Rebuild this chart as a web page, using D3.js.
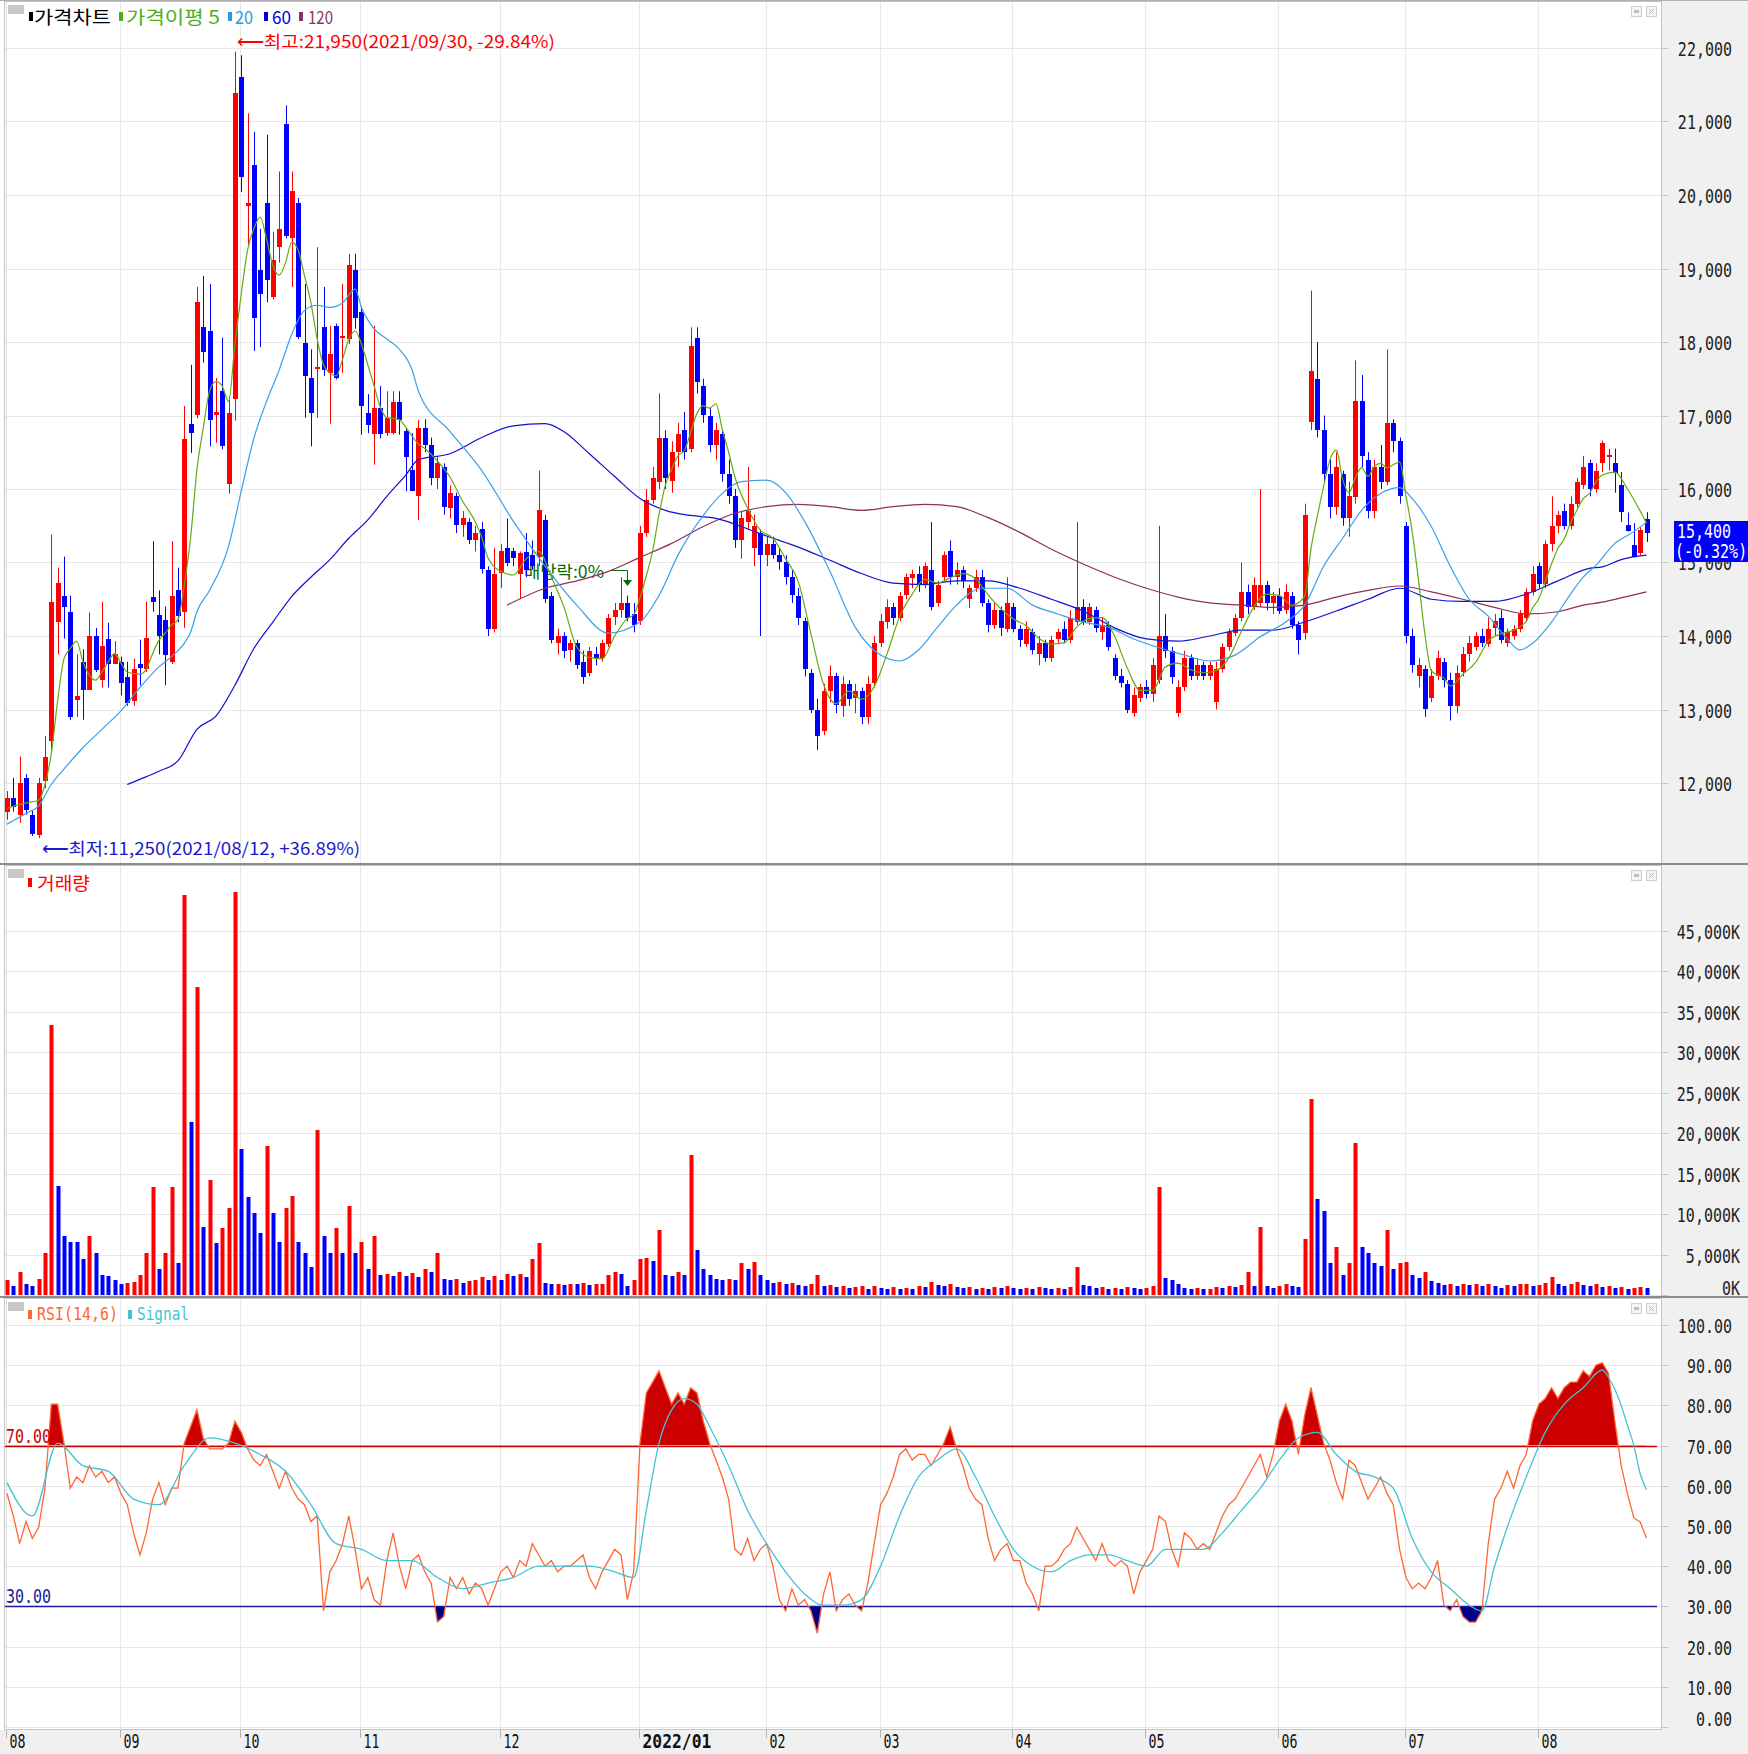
<!DOCTYPE html>
<html><head><meta charset="utf-8">
<script src="https://cdn.jsdelivr.net/npm/d3@7"></script>
<style>html,body{margin:0;padding:0;background:#fff}svg{display:block}</style>
</head><body>
<svg id="chart" width="1748" height="1754"></svg>
<script>
// ---------------- DATA ----------------
const monthLabels = ["08","09","10","11","12","2022/01","02","03","04","05","06","07","08"];
const monthStartIdx = [0,18,37,56,78,100,120,138,159,180,201,221,242];
const priceTicks = [12000,13000,14000,15000,16000,17000,18000,19000,20000,21000,22000];
const volumeTicks = [0,5000,10000,15000,20000,25000,30000,35000,40000,45000];
const rsiTicks = [0,10,20,30,40,50,60,70,80,90,100];

// daily candles [open, high, low, close], 2021/08 .. 2022/08
const ohlc = [
[11600,11890,11500,11790],[11790,12070,11610,11670],[11570,12360,11460,12000],[12070,12120,11570,11640],
[11570,11620,11280,11310],[11290,12070,11250,12000],[12040,12640,11930,12360],[12570,15380,12430,14465],
[14180,14930,13750,14715],[14550,15080,13965,14400],[14330,14550,12860,12900],[13120,13750,12900,13180],
[13645,13820,12860,13270],[13270,14320,13270,14000],[14000,14110,13510,13540],[13400,14465,13300,13860],
[13965,14180,13300,13620],[13620,13930,13620,13750],[13650,13720,13190,13370],[13440,13650,13050,13080],
[13120,13690,13050,13550],[13620,13950,13330,13560],[13550,14470,13510,13970],[14530,15290,14330,14460],
[14290,14620,13750,14000],[14220,14400,13330,13750],[13650,15290,13620,14550],[14620,14930,14190,14270],
[14330,17130,14110,16680],[16890,17690,16490,16770],[17000,18750,16960,18540],[18200,18900,17720,17860],
[18150,18790,16580,16940],[17010,17510,16630,17050],[17330,18060,16540,16580],[16080,17260,15940,17040],
[17220,21950,16930,21390],[21610,21900,20040,20250],[19850,21110,19320,19890],[20410,20860,17880,18330],
[18980,19540,17930,18650],[19890,20820,18540,18840],[18600,19500,18580,19110],[19290,20320,19080,19540],
[20960,21220,19410,19430],[19410,20320,18750,20050],[19890,19960,18040,18070],[17980,18790,16970,17530],
[17510,17900,16580,17040],[17630,19290,16970,17660],[18200,18750,17540,17610],[17580,18220,16890,17840],
[18220,18250,17490,17510],[18050,18790,17580,18080],[18040,19200,17970,19050],[18980,19200,18180,18330],
[18410,18470,16740,17130],[17040,17290,16760,16880],[16740,18220,16330,17100],[17100,17400,16690,16740],
[16760,17330,16720,16960],[16760,17330,16740,17180],[17180,17330,16740,16930],[16790,16830,15970,16440],
[16260,16760,15970,15970],[15900,16940,15580,16830],
[16830,16950,16500,16600],[16600,16700,16050,16150],[16150,16450,16000,16350],[16300,16350,15650,15750],
[15750,16050,15600,15950],[15900,15950,15400,15500],[15500,15700,15350,15600],[15550,15600,15250,15300],
[15300,15500,15150,15400],[15450,15550,14850,14900],[14900,14950,14000,14100],[14100,15200,14050,14850],
[14850,15250,14650,15150],[15200,15600,14950,15000],[15150,15200,14950,15050],[14850,15150,14500,15130],
[15140,15400,14800,14900],[15100,15300,14900,14950],[15075,16250,14950,15720],[15575,15650,14450,14500],
[14550,14600,13900,13950],[13900,14100,13750,14000],[14000,14050,13700,13800],[13800,13950,13650,13900],
[13900,13950,13550,13600],[13650,13800,13350,13450],[13500,13850,13450,13800],[13750,13850,13600,13700],
[13700,13950,13650,13900],[13900,14300,13850,14250],[14250,14450,14150,14350],[14350,14800,14250,14450],
[14450,14550,14200,14250],[14300,14450,14050,14150],[14200,15500,14150,15400],[15400,16000,15350,15850],
[15850,16300,15800,16150],[16100,17300,16000,16700],[16700,16800,16000,16150],[16100,16650,15950,16500],
[16500,16900,16300,16750],[16800,17050,16400,16500],[16550,18200,16500,17950],[18050,18200,17300,17450],
[17400,17500,16900,17000],[17000,17100,16500,16600],[16600,16900,16400,16800],[16750,16800,16100,16200],
[16200,16400,15800,15900],[15900,16000,15200,15300],[15300,15700,15050,15600],[15550,16300,15450,15700],
[15200,15650,14950,15500],[15400,15450,14000,15100],[15100,15350,14950,15250],[15250,15350,15050,15100],
[15100,15200,14900,15000],[15000,15100,14700,14800],[14800,14900,14450,14550],[14550,14650,14150,14250],
[14200,14250,13450,13550],[13500,13550,12950,13000],[13000,13150,12450,12650],[12700,13350,12650,13250],
[13250,13600,13100,13450],[13450,13500,12950,13050],[13050,13450,12900,13350],[13350,13400,13050,13150],
[13150,13350,12950,13250],[13250,13300,12800,12900],[12900,13450,12800,13350],[13350,14000,13300,13900],
[13900,14300,13850,14200],[14200,14500,14100,14400],[14400,14450,14150,14250],[14250,14600,14200,14550],
[14550,14850,14500,14800],[14800,14900,14650,14850],[14850,14950,14600,14700],[14700,15000,14650,14950],
[14900,15550,14350,14400],[14450,14750,14400,14700],[14800,15150,14750,15100],[15150,15300,14700,14800],
[14800,15000,14700,14900],[14900,14950,14650,14750],[14500,14700,14380,14650],[14650,14900,14600,14800],
[14800,14900,14400,14450],[14450,14500,14050,14150],[14150,14450,14100,14350],[14350,14400,14000,14100],
[14100,14800,14050,14450],[14400,14450,14050,14100],[14100,14150,13850,13950],[13900,14200,13850,14100],
[14050,14100,13750,13800],[13750,14000,13600,13900],[13900,13950,13650,13700],[13700,14000,13650,13950],
[13950,14100,13900,14050],[14100,14200,13900,13950],[13950,14350,13900,14250],[14200,15550,14150,14400],
[14400,14500,14150,14200],[14200,14450,14150,14400],[14350,14400,14050,14100],[14050,14250,13950,14150],
[14150,14200,13800,13850],[13700,13750,13400,13450],[13450,13550,13300,13350],[13350,13400,12950,13000],
[12950,13300,12900,13200],[13150,13350,13100,13300],[13300,13400,13150,13200],[13200,13700,13100,13600],
[13400,15500,13350,14000],[14000,14300,13700,13800],[13800,13850,13350,13450],[12950,13400,12900,13300],
[13300,13800,13250,13700],[13700,13750,13400,13450],[13450,13700,13400,13600],[13600,13650,13400,13450],
[13450,13650,13400,13600],[13100,13650,13000,13550],[13550,13900,13500,13850],[13850,14100,13800,14050],
[14050,14300,14000,14250],[14250,15000,14200,14600],[14600,14700,14300,14400],[14400,14800,14350,14700],
[14450,16000,14400,14700],[14700,14750,14350,14450],[14450,14600,14300,14550],[14550,14650,14300,14350],
[14350,14700,14300,14600],[14550,14600,14100,14150],[14150,14200,13750,13950],[14050,15800,13950,15650],
[16900,18700,16800,17600],[17500,18000,16700,16800],[16800,17000,16100,16200],[16200,16400,15600,15750],
[15750,16500,15650,16300],[16200,16250,15500,15600],[15600,16100,15350,15900],[15900,17750,15800,17200],
[17200,17550,16300,16450],[16400,16500,15600,15700],[15700,16400,15600,16300],[16300,16600,16000,16100],
[16100,17900,16050,16900],[16900,16950,16500,16650],[16650,16700,15800,15900],[15500,15550,13900,14000],
[14000,14100,13500,13600],[13450,13700,13300,13600],[13550,13600,12900,13000],[13150,13550,13100,13450],
[13450,13800,13400,13700],[13650,13700,13300,13400],[13400,13500,12850,13050],[13050,13600,12950,13500],
[13500,13850,13450,13750],[13750,14000,13650,13900],[13850,14050,13800,14000],[14000,14100,13850,13900],
[13900,14250,13850,14100],[14100,14300,14000,14200],[14250,14350,13900,13950],[13900,14100,13850,14050],
[14000,14150,13950,14100],[14100,14350,14050,14300],[14250,14650,14200,14600],[14600,14950,14550,14850],
[14950,15000,14650,14700],[14700,15300,14650,15250],[15250,15900,15150,15500],[15500,15700,15400,15650],
[15700,15800,15450,15500],[15500,15900,15450,15800],[15800,16150,15750,16100],[16050,16450,16000,16300],
[16350,16400,15900,16000],[16000,16350,15950,16250],[16350,16660,16230,16620],[16430,16550,16250,16460],
[16360,16550,15950,16220],[16050,16230,15550,15680],[15510,15680,15420,15430],[15235,15535,15070,15070],
[15125,15480,15100,15440],[15590,15685,15280,15400]
];

// volume in thousands of shares
const volume = [1800,1100,2900,1400,1100,2000,5200,33300,13500,7300,6600,6500,4500,7300,5200,2500,2400,1800,1400,1500,
1600,2500,5200,13300,3200,5200,13300,3900,49400,21400,38000,8400,14200,6400,8300,10800,49700,18000,12100,10100,
7700,18400,10100,6600,10800,12200,6600,5200,3500,20400,7300,5200,8300,5200,11000,5200,6600,3200,7300,2500,
2600,2300,2800,2400,2700,2200,3200,2900,5200,2000,1800,2000,1500,1700,1800,2200,1900,2400,1800,2600,
2300,2600,2200,4500,6400,1500,1300,1400,1200,1400,1300,1500,1200,1300,1400,2500,2800,2600,1100,1800,
4500,4600,4200,8000,2500,2400,2800,2500,17300,5500,3200,2500,2000,1800,2000,1800,3900,3200,4100,2500,
1800,1500,1600,1400,1500,1200,1100,1300,2500,1100,1200,1000,1100,900,1000,1100,800,1100,900,800,
1000,800,900,800,1100,1000,1600,1200,1100,1300,1000,900,1000,800,900,800,1000,900,1100,900,
800,900,800,1000,900,800,900,800,1000,3500,1200,1100,900,1000,800,900,800,1000,900,800,
900,1100,13300,2100,1800,1400,900,800,900,700,800,1000,900,1100,1000,1200,2800,1100,8400,1100,
900,1100,1400,1100,1000,6900,24200,11900,10400,3900,5900,2500,3900,18800,5900,5200,3900,3600,8000,3200,
3900,4100,2500,2100,2800,1700,1500,1200,1400,1100,1300,1200,1400,1100,1300,1100,900,1200,1100,1300,
1400,1100,1200,1500,2200,1400,1100,1300,1600,1200,1100,1300,1000,1100,900,1000,800,900,950,850];

const rsi = [58.1,52.5,45.6,51.1,46.9,49.7,59.4,80.3,80.3,70.6,59.4,62.2,60.8,65,62.2,63.6,60.8,62.2,58.1,55.3,
48.3,42.8,48.3,56.7,60.8,55.3,59.4,59.4,70.6,74.7,78.9,71.9,69.2,69.2,69.2,70.6,76.1,73.3,69.2,66.4,
65,67.8,63.6,59.4,63.6,59.4,56.7,55.3,51.1,52.5,28.9,38.6,41.4,45.6,52.5,44.2,34.4,37.2,31.7,30.3,
41.4,48.3,40,34.4,41.4,42.8,38.6,35.8,26.1,27.5,37.2,34.4,37.2,33.1,35.8,34.4,30.3,34.4,38.6,40,
37.2,41.4,40,45.6,42.8,40,41.4,38.6,40,40,41.4,42.8,37.2,34.4,38.6,41.4,44.2,42.8,31.7,38.6,
70.6,83.1,85.8,88.6,84.4,80.3,83.1,80.3,84.4,83.1,76.1,70.6,66.4,62.2,56.7,44.2,42.8,46.9,41.4,44.2,
45.6,40,31.7,28.9,34.4,30.3,31.7,28.9,23.3,33.1,38.6,28.9,31.7,33.1,30.3,28.9,35.8,45.6,55.3,58.1,
62.2,67.8,69.2,66.4,67.8,67.8,65,67.8,70.6,74.7,69.2,65,59.4,56.7,55.3,46.9,41.4,44.2,45.6,41.4,
41.4,35.8,33.1,28.9,40,40,41.4,44.2,45.6,49.7,46.9,44.2,41.4,45.6,41.4,40,41.4,40,33.1,38.6,
41.4,44.2,52.5,51.1,44.2,40,48.3,46.9,44.2,45.6,44.2,48.3,52.5,55.3,56.7,59.4,62.2,65,67.8,62.2,
67.8,76.1,80.3,76.1,67.8,77.5,84.4,77.5,70.6,66.4,60.8,56.7,66.4,65,60.8,56.7,59.4,62.2,58.1,55.3,
44.2,37.2,34.4,35.8,34.4,37.2,41.4,30.3,28.9,31.7,27.5,26.1,26.1,28.9,45.6,56.7,59.4,63.6,59.4,65,
67.8,76.1,80.3,81.7,84.4,81.7,84.4,85.8,85.8,88.6,87.2,90,90.6,88,76,65,58,52,51,47];

// [index, value] samples
const signal = [[0,60.8],[4,52.5],[8,70.6],[12,65],[16,63.6],[20,56.7],[24,55.3],[28,65],[32,71.9],[36,70.6],[40,67.8],[44,63.6],[48,55.3],[52,45.6],[56,44.2],[60,41.4],[64,41.4],[68,37.2],[72,34.4],[76,35.8],[80,37.2],[84,40],[88,40],[92,40],[96,38.6],[99,37.2],[101,53.9],[103,70.6],[105,78.9],[107,81.7],[109,80.3],[111,74.7],[114,65],[117,53.9],[120,45.6],[123,38.6],[126,33.1],[129,30.3],[132,30.3],[135,31.7],[138,40],[141,52.5],[144,62.2],[147,66.4],[150,69.2],[153,62.2],[156,52.5],[159,44.2],[162,40],[165,38.6],[168,41.4],[171,42.8],[174,42.8],[177,41.4],[180,40],[183,44.2],[186,44.2],[189,44.2],[192,48.3],[195,53.9],[198,59.4],[201,66.4],[204,71.9],[207,73.3],[210,67.8],[213,63.6],[216,62.2],[219,59.4],[222,46.9],[225,38.6],[228,34.4],[231,30.3],[233,28.9],[235,40],[237,49.7],[240,62.2],[243,73.3],[246,80.3],[249,84.4],[252,88.8],[253,87],[254,84],[255,80],[256,75],[257,70],[258,63],[259,59]];

const ma5 = [[0,11657],[3,11730],[5,11765],[6,11980],[7,12400],[8,13120],[9,13690],[10,13830],[11,13930],[12,13650],[14,13400],[15,13510],[16,13650],[17,13760],[18,13630],[19,13510],[21,13480],[22,13550],[23,13760],[24,13940],[25,14040],[26,14150],[27,14220],[28,14690],[29,15330],[30,16260],[31,16830],[32,17330],[33,17460],[34,17400],[35,17190],[36,17970],[37,18650],[38,19250],[39,19540],[40,19700],[41,19400],[42,19040],[43,18910],[44,19080],[45,19360],[46,19250],[47,18900],[48,18540],[49,18040],[50,17690],[51,17580],[52,17540],[53,17760],[54,18040],[55,18150],[56,17970],[57,17690],[58,17400],[59,17110],[60,16970],[61,16960],[62,16940],[63,16840],[64,16720],[65,16610],[66,16550],[68,16380],[70,16160],[72,15830],[74,15550],[75,15340],[76,15060],[78,14880],[80,14830],[82,15050],[84,15150],[86,14800],[88,14390],[90,13850],[92,13710],[94,13690],[96,14000],[98,14240],[99,14290],[100,14520],[101,14820],[102,15160],[103,15650],[104,16050],[105,16270],[106,16450],[107,16520],[108,16770],[109,17030],[110,17130],[111,17100],[112,17160],[113,16810],[114,16500],[115,16160],[117,15740],[119,15440],[121,15330],[123,15050],[125,14740],[127,14030],[129,13340],[131,13080],[133,13250],[135,13140],[137,13310],[139,13750],[141,14260],[143,14570],[145,14770],[147,14720],[149,14790],[151,14850],[153,14780],[155,14560],[157,14370],[159,14230],[161,14140],[163,13970],[165,13890],[167,13910],[169,14120],[171,14240],[173,14250],[175,13990],[177,13560],[179,13260],[181,13260],[183,13580],[185,13630],[187,13540],[189,13500],[191,13530],[193,13700],[195,14060],[197,14400],[199,14570],[201,14550],[203,14420],[205,14540],[206,15190],[207,15630],[208,16040],[209,16400],[210,16530],[211,16130],[212,15950],[213,16150],[214,16290],[215,16170],[216,16310],[217,16350],[218,16290],[219,16330],[220,16370],[221,15910],[222,15410],[223,14750],[224,14020],[225,13530],[226,13470],[227,13430],[228,13320],[230,13480],[232,13640],[234,13930],[236,14030],[238,14080],[240,14200],[241,14380],[242,14510],[243,14740],[244,14980],[245,15190],[246,15320],[247,15540],[248,15710],[249,15870],[250,15940],[251,16090],[252,16190],[254,16230],[256,16000],[258,15700],[259,15535]];
const ma20 = [[0,11440],[3,11585],[5,11690],[7,11980],[9,12190],[12,12480],[15,12730],[18,12980],[21,13300],[24,13580],[26,13720],[27,13800],[28,13900],[29,14050],[30,14330],[32,14620],[35,15220],[37,15970],[39,16690],[41,17190],[43,17620],[45,18110],[47,18430],[49,18500],[51,18470],[53,18530],[55,18720],[56,18470],[58,18180],[60,18040],[62,17900],[64,17620],[65,17330],[70,16780],[75,16250],[80,15560],[85,14950],[90,14420],[95,14040],[100,14190],[103,14550],[106,15100],[110,15640],[113,15940],[116,16100],[120,16120],[123,15950],[126,15560],[130,14880],[134,14120],[138,13740],[141,13660],[144,13810],[147,14120],[150,14420],[154,14650],[158,14650],[162,14420],[166,14300],[170,14190],[174,14120],[178,13960],[182,13840],[186,13740],[190,13660],[194,13740],[198,13990],[202,14190],[205,14420],[208,14950],[211,15330],[214,15710],[217,15940],[220,16020],[222,15870],[225,15490],[228,14950],[231,14500],[234,14270],[237,13960],[239,13810],[241,13900],[244,14190],[247,14570],[249,14800],[251,14960],[254,15260],[257,15420],[259,15550]];
const ma60 = [[19,11980],[21,12050],[24,12160],[27,12300],[30,12730],[33,12910],[36,13330],[39,13830],[42,14190],[45,14540],[48,14800],[51,15040],[54,15330],[57,15580],[60,15900],[63,16190],[65,16400],[70,16480],[75,16700],[80,16860],[85,16890],[88,16780],[92,16480],[96,16170],[100,15870],[104,15710],[108,15640],[112,15600],[116,15490],[120,15360],[125,15210],[130,15030],[135,14850],[140,14720],[145,14700],[150,14750],[155,14750],[160,14650],[165,14500],[170,14340],[175,14110],[180,13960],[185,13930],[190,14000],[195,14080],[200,14080],[205,14190],[210,14340],[215,14500],[220,14650],[225,14500],[230,14470],[235,14470],[240,14570],[245,14750],[250,14920],[252,14940],[255,15040],[259,15100]];
const ma120 = [[79,14420],[85,14650],[90,14750],[95,14880],[100,15070],[105,15260],[110,15490],[115,15670],[120,15760],[125,15790],[130,15760],[135,15710],[140,15760],[145,15790],[150,15760],[155,15610],[160,15410],[165,15180],[170,14980],[175,14800],[180,14650],[185,14530],[190,14450],[195,14420],[200,14390],[205,14420],[210,14530],[215,14620],[220,14680],[225,14600],[230,14500],[235,14390],[240,14300],[245,14330],[249,14420],[252,14460],[256,14540],[259,14600]];

// ---------------- DRAW ----------------
const svg = d3.select("#chart");
const X0 = 4, X1 = 1661;
const x = d3.scaleLinear().domain([0, 259]).range([7, 1646.5]);
const yP = d3.scaleLinear().domain([12000, 22000]).range([783, 48]);
const yV = d3.scaleLinear().domain([0, 45000]).range([1295, 930.5]);
const yR = d3.scaleLinear().domain([0, 100]).range([1727, 1325]);
const panels = [{top:1,bottom:864,y:yP,ticks:priceTicks,fmt:d3.format(","),right:1732},
                {top:865,bottom:1297,y:yV,ticks:volumeTicks,fmt:d=>d3.format(",")(d)+"K",right:1740},
                {top:1298,bottom:1730,y:yR,ticks:rsiTicks,fmt:d3.format(".2f"),right:1732}];
const UP = "#ff0000", DN = "#0000ff";
const MONO = "'DejaVu Sans Mono', monospace";
const KR = "'Noto Sans CJK KR', sans-serif";
const SX = 0.75;
const px = i => Math.round(x(i));

svg.append("rect").attr("width",1748).attr("height",1754).attr("fill","#ffffff");
svg.append("rect").attr("x",X1).attr("y",0).attr("width",1748-X1).attr("height",1754).attr("fill","#f0f0f0");
svg.append("rect").attr("x",0).attr("y",1730).attr("width",1748).attr("height",24).attr("fill","#f0f0f0");

const defs = svg.append("defs");
panels.forEach((p,k)=>{
  defs.append("clipPath").attr("id","clip"+k).append("rect")
    .attr("x",X0+1).attr("y",p.top).attr("width",X1-X0-1).attr("height",p.bottom-p.top);
});
defs.append("clipPath").attr("id","clipUp").append("rect").attr("x",X0).attr("y",1298).attr("width",X1-X0).attr("height",yR(70)-1298);
defs.append("clipPath").attr("id","clipDn").append("rect").attr("x",X0).attr("y",yR(30)).attr("width",X1-X0).attr("height",1730-yR(30));

panels.forEach((p,k)=>{
  const g = svg.append("g");
  g.selectAll("line.hg").data(p.ticks).join("line")
    .attr("x1",X0).attr("x2",X1).attr("y1",d=>Math.round(p.y(d))+0.5).attr("y2",d=>Math.round(p.y(d))+0.5)
    .attr("stroke","#e8e8e8");
  g.selectAll("line.vg").data(monthStartIdx.slice(1)).join("line")
    .attr("x1",d=>px(d)-0.5).attr("x2",d=>px(d)-0.5).attr("y1",p.top).attr("y2",p.bottom)
    .attr("stroke","#e8e8e8");
  g.append("rect").attr("x",X0+0.5).attr("y",p.top+0.5).attr("width",X1-X0).attr("height",p.bottom-p.top-1)
    .attr("fill","none").attr("stroke","#c4c4c4");
  g.append("line").attr("x1",X0+2.5).attr("x2",X0+2.5).attr("y1",p.top).attr("y2",p.bottom).attr("stroke","#dcdcdc");
  const ax = g.append("g").attr("transform",`translate(${X1+0.5},0)`)
    .call(d3.axisRight(p.y).tickValues(p.ticks).tickSize(7).tickFormat(p.fmt));
  ax.select(".domain").remove();
  ax.selectAll(".tick line").attr("stroke","#c4c4c4");
  ax.selectAll(".tick").attr("transform",d=>`translate(0,${Math.round(p.y(d))+0.5})`);
  ax.selectAll(".tick text").attr("font-family",MONO).attr("font-size",20).attr("fill","#222")
    .attr("text-anchor","end").attr("transform",`scale(${SX},1)`)
    .attr("x",(p.right-X1-0.5)/SX)
    .attr("dy","0.35em")
    .attr("y",(d)=> (k===1 && d===0) ? -8 : (k===2 && d===0) ? -9 : 0);
  [1631,1646].forEach((ix,j)=>{
    g.append("rect").attr("x",ix+0.5).attr("y",p.top+5.5).attr("width",10).attr("height",10).attr("fill","#f4f4f4").attr("stroke","#cfcfcf");
    if(j===0) g.append("rect").attr("x",ix+3).attr("y",p.top+9).attr("width",5).attr("height",3).attr("fill","#bdbdbd");
    else g.append("path").attr("d",`M${ix+3},${p.top+8}l5,5M${ix+8},${p.top+8}l-5,5`).attr("stroke","#bdbdbd");
  });
  g.append("rect").attr("x",8).attr("y",p.top+4).attr("width",16).attr("height",9).attr("fill","#c8c8c8");
});

[864, 1297].forEach(yy=> svg.append("line").attr("x1",0).attr("x2",1748).attr("y1",yy).attr("y2",yy).attr("stroke","#8c8c8c").attr("stroke-width",2));
svg.append("line").attr("x1",0).attr("x2",1748).attr("y1",0.5).attr("y2",0.5).attr("stroke","#b0b0b0");

const bx = svg.append("g").attr("transform","translate(0,1730)")
  .call(d3.axisBottom(x).tickValues(monthStartIdx).tickSize(8).tickFormat((d,i)=>monthLabels[i]));
bx.select(".domain").remove();
bx.selectAll(".tick").attr("transform",d=>`translate(${px(d)-0.5},0)`);
bx.selectAll(".tick line").attr("stroke","#b4b4b4");
bx.selectAll(".tick text").attr("font-family",MONO).attr("font-size",19).attr("fill","#111")
  .attr("text-anchor","start").attr("transform",(d,i)=>`scale(${monthLabels[i].length>2?0.86:0.7},1)`)
  .attr("x",(d,i)=>3/(monthLabels[i].length>2?0.86:0.7)).attr("y",5).attr("dy","0.71em")
  .attr("font-weight",(d,i)=>monthLabels[i].length>2?"bold":"normal");

function label(g, xx, yy, s, color, size, len, fam){
  const t = g.append("text").attr("x",xx).attr("y",yy).attr("fill",color).attr("font-size",size)
    .attr("font-family",fam||KR).attr("dominant-baseline","central").text(s);
  if(len) t.attr("textLength",len).attr("lengthAdjust","spacingAndGlyphs");
  return t;
}
function marker(g, xx, yy, color){ g.append("rect").attr("x",xx).attr("y",yy-4).attr("width",4).attr("height",9).attr("fill",color); }

const gX = svg.append("g");
label(gX,524,570,"배당락:0%","#0a6a0a",17,80);
gX.append("path").attr("d","M610,570.5H627.5V582").attr("fill","none").attr("stroke","#0a6a0a");
gX.append("path").attr("d","M623,580L632,580L627.5,586Z").attr("fill","#0a6a0a");

// ----- price panel -----
const gP = svg.append("g").attr("clip-path","url(#clip0)");
gP.selectAll("line.wick").data(ohlc).join("line")
  .attr("x1",(d,i)=>px(i)+0.5).attr("x2",(d,i)=>px(i)+0.5)
  .attr("y1",d=>yP(d[1])).attr("y2",d=>yP(d[2]))
  .attr("stroke",d=>d[3]>=d[0]?UP:DN);
gP.selectAll("rect.body").data(ohlc).join("rect")
  .attr("x",(d,i)=>px(i)-2).attr("width",5)
  .attr("y",d=>Math.round(yP(Math.max(d[0],d[3]))))
  .attr("height",d=>Math.max(1,Math.round(Math.abs(yP(d[0])-yP(d[3])))))
  .attr("fill",d=>d[3]>=d[0]?UP:DN);

const maLine = d3.line().x(d=>x(d[0])).y(d=>yP(d[1])).curve(d3.curveMonotoneX);
[[ma120,"#8e2f5c"],[ma60,"#1010d0"],[ma20,"#39a0e8"],[ma5,"#66aa11"]].forEach(([arr,c])=>{
  gP.append("path").attr("d",maLine(arr)).attr("fill","none").attr("stroke",c).attr("stroke-width",1.2);
});

const gL = svg.append("g");
marker(gL,29,16,"#000"); label(gL,34,16,"가격차트","#000",18,77);
marker(gL,119,16,"#4fae18"); label(gL,126,16,"가격이평 5","#4fae18",18,94);
marker(gL,228,16,"#2a9be0"); label(gL,235,16,"20","#2a9be0",18,18);
marker(gL,264,16,"#0000dd"); label(gL,272,16,"60","#0000dd",18,19);
marker(gL,299,16,"#883366"); label(gL,308,16,"120","#883366",18,25);
label(gL,237,40,"⟵최고:21,950(2021/09/30, -29.84%)","#ff0000",17,318);
label(gL,42,847,"⟵최저:11,250(2021/08/12, +36.89%)","#1a1acc",17,318);

svg.append("rect").attr("x",1674).attr("y",521).attr("width",74).attr("height",41).attr("fill","#0000ff");
svg.append("text").attr("transform",`translate(1677,531) scale(${SX},1)`).attr("font-family",MONO).attr("font-size",20)
  .attr("fill","#fff").attr("dominant-baseline","central").text("15,400");
svg.append("text").attr("transform",`translate(1675,551) scale(${SX},1)`).attr("font-family",MONO).attr("font-size",20)
  .attr("fill","#fff").attr("dominant-baseline","central").text("(-0.32%)");

// ----- volume (red when volume rose from the previous day) -----
const gV = svg.append("g").attr("clip-path","url(#clip1)");
gV.selectAll("rect").data(volume).join("rect")
  .attr("x",(d,i)=>px(i)-1.5).attr("width",4)
  .attr("y",d=>Math.round(yV(d))).attr("height",d=>Math.max(1,1295-Math.round(yV(d))))
  .attr("fill",(d,i)=> (i===0 || d>volume[i-1]) ? UP : DN);
marker(gL,28,882,"#ff0000"); label(gL,37,882,"거래량","#ff0000",18,53);

// ----- RSI -----
const gR = svg.append("g").attr("clip-path","url(#clip2)");
const area = d3.area().x((d,i)=>x(i)).y1(d=>yR(d));
gR.append("path").attr("clip-path","url(#clipUp)").attr("d",area.y0(yR(70))(rsi)).attr("fill","#cc0000");
gR.append("path").attr("clip-path","url(#clipDn)").attr("d",area.y0(yR(30))(rsi)).attr("fill","#000088");
gR.append("line").attr("x1",X0).attr("x2",1657).attr("y1",Math.round(yR(70))+0.5).attr("y2",Math.round(yR(70))+0.5).attr("stroke","#cc0000").attr("stroke-width",1.5);
gR.append("line").attr("x1",X0).attr("x2",1657).attr("y1",Math.round(yR(30))+0.5).attr("y2",Math.round(yR(30))+0.5).attr("stroke","#1a1a99").attr("stroke-width",1.5);
gR.append("path").attr("d",d3.line().x((d,i)=>x(i)).y(d=>yR(d))(rsi)).attr("fill","none").attr("stroke","#ff6633").attr("stroke-width",1.3);
gR.append("path").attr("d",d3.line().x(d=>x(d[0])).y(d=>yR(d[1])).curve(d3.curveMonotoneX)(signal)).attr("fill","none").attr("stroke","#44c2d4").attr("stroke-width",1.3);
svg.append("text").attr("transform",`translate(6,1436) scale(${SX},1)`).attr("font-family",MONO).attr("font-size",20)
  .attr("fill","#cc0000").attr("dominant-baseline","central").text("70.00");
svg.append("text").attr("transform",`translate(6,1596) scale(${SX},1)`).attr("font-family",MONO).attr("font-size",20)
  .attr("fill","#1a1a99").attr("dominant-baseline","central").text("30.00");
marker(gL,28,1314,"#ff6633"); label(gL,37,1314,"RSI(14,6)","#ff6633",17,81,MONO);
marker(gL,128,1314,"#44c2d4"); label(gL,137,1314,"Signal","#44c2d4",17,52,MONO);
</script>
</body></html>
